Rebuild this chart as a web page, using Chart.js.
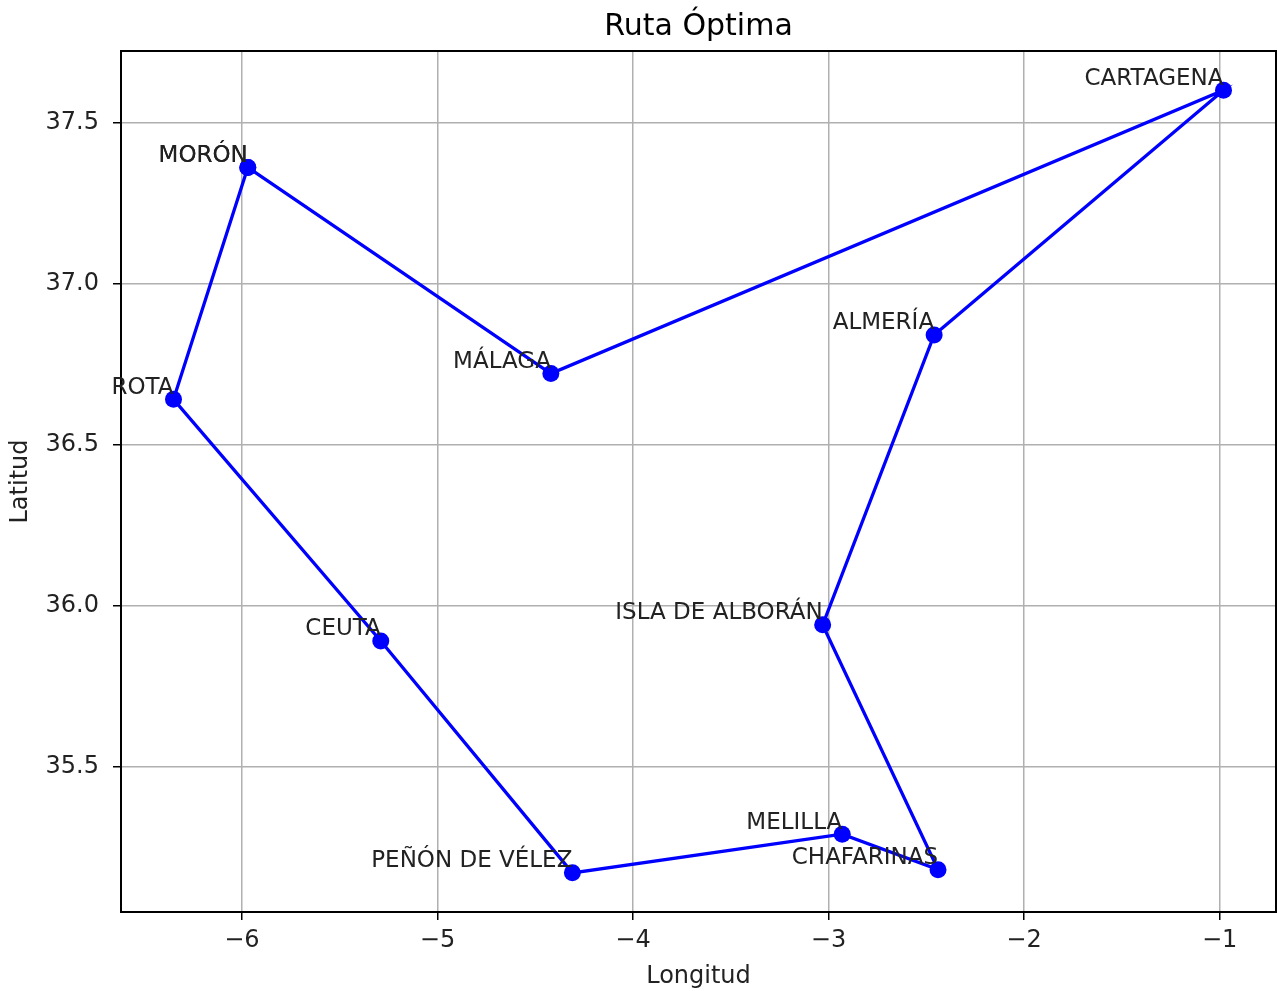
<!DOCTYPE html>
<html>
<head>
<meta charset="utf-8">
<title>Ruta Óptima</title>
<script src="https://cdn.jsdelivr.net/npm/chart.js@4.4.1/dist/chart.umd.min.js"></script>
<style>
    html, body { margin: 0; padding: 0; background: #fff; }
    #wrap { width: 1277px; height: 991px; position: relative; }
</style>
</head>
<body>
<div id="wrap"><canvas id="route-chart"></canvas></div>
<script>
// route order, first city repeated to close the loop
var cities = ['MORÓN', 'MÁLAGA', 'CARTAGENA', 'ALMERÍA', 'ISLA DE ALBORÁN', 'CHAFARINAS', 'MELILLA', 'PEÑÓN DE VÉLEZ', 'CEUTA', 'ROTA', 'MORÓN'];
var longitudes = [-5.97, -4.42, -0.98, -2.46, -3.03, -2.44, -2.93, -4.31, -5.29, -6.35, -5.97];
var latitudes = [37.36, 36.72, 37.60, 36.84, 35.94, 35.18, 35.29, 35.17, 35.89, 36.64, 37.36];
var xTicks = [-6, -5, -4, -3, -2, -1];
var yTicks = [35.5, 36.0, 36.5, 37.0, 37.5];
var chartTitle = 'Ruta Óptima';

var FONT = 'DejaVu Sans';
var TEXT = '#222';

// 5% margin around the data, like the original plot
function padRange(vals) {
    var lo = Math.min.apply(null, vals), hi = Math.max.apply(null, vals);
    var m = (hi - lo) * 0.05;
    return [lo - m, hi + m];
}
var xRange = padRange(longitudes);
var yRange = padRange(latitudes);

var points = cities.map(function (c, i) {
    return { x: longitudes[i], y: latitudes[i] };
});

// axes frame + title centred over the plot area
var framePlugin = {
    id: 'frame',
    beforeDatasetsDraw: function (chart) {
        var a = chart.chartArea, ctx = chart.ctx;
        ctx.save();
        ctx.strokeStyle = '#000';
        ctx.lineWidth = 2;
        ctx.strokeRect(a.left, a.top, a.right - a.left, a.bottom - a.top);
        ctx.font = '30px "' + FONT + '"';
        ctx.fillStyle = '#000';
        ctx.textAlign = 'center';
        ctx.textBaseline = 'alphabetic';
        ctx.fillText(chartTitle, (a.left + a.right) / 2, 35);
        ctx.restore();
    }
};

var labelPlugin = {
    id: 'cityLabels',
    afterDatasetsDraw: function (chart) {
        var ctx = chart.ctx;
        var meta = chart.getDatasetMeta(0);
        ctx.save();
        ctx.font = '23px "' + FONT + '"';
        ctx.fillStyle = TEXT;
        ctx.textAlign = 'right';
        ctx.textBaseline = 'bottom';
        meta.data.forEach(function (pt, i) {
            ctx.fillText(cities[i], pt.x, pt.y);
        });
        ctx.restore();
    }
};

function noEdgePad(s) {
    s.paddingLeft = 0;
    s.paddingRight = 0;
    s.paddingTop = 0;
    s.paddingBottom = 0;
}

var ctx = document.querySelector('#route-chart').getContext('2d');
var myChart = new Chart(ctx, {
    type: 'scatter',
    data: {
        datasets: [{
            data: points,
            showLine: true,
            borderColor: '#0000ff',
            borderWidth: 3.3,
            backgroundColor: '#0000ff',
            pointRadius: 8.5,
            pointBorderWidth: 0,
            tension: 0
        }]
    },
    options: {
        responsive: true,
        maintainAspectRatio: false,
        animation: false,
        events: [],
        layout: { autoPadding: false, padding: { left: 0, right: 1, top: 51, bottom: 0 } },
        plugins: {
            legend: { display: false },
            tooltip: { enabled: false },
            title: { display: false }
        },
        scales: {
            x: {
                type: 'linear',
                min: xRange[0],
                max: xRange[1],
                afterBuildTicks: function (s) {
                    s.ticks = xTicks.map(function (v) { return { value: v }; });
                },
                afterFit: function (s) { s.height = 79; noEdgePad(s); },
                border: { display: false },
                grid: { color: '#b0b0b0', lineWidth: 1.5, tickColor: '#000', tickWidth: 1.5, tickLength: 8 },
                ticks: {
                    color: TEXT,
                    font: { family: FONT, size: 24 },
                    padding: 6,
                    maxRotation: 0,
                    autoSkip: false,
                    callback: function (v) { return v < 0 ? '\u2212' + Math.abs(v) : String(v); }
                },
                title: {
                    display: true,
                    text: 'Longitud',
                    color: TEXT,
                    font: { family: FONT, size: 24 },
                    padding: { top: 0, bottom: 0 }
                }
            },
            y: {
                type: 'linear',
                min: yRange[0],
                max: yRange[1],
                afterBuildTicks: function (s) {
                    s.ticks = yTicks.map(function (v) { return { value: v }; });
                },
                afterFit: function (s) { s.width = 121; noEdgePad(s); },
                border: { display: false },
                grid: { color: '#b0b0b0', lineWidth: 1.5, tickColor: '#000', tickWidth: 1.5, tickLength: 8 },
                ticks: {
                    color: TEXT,
                    font: { family: FONT, size: 24 },
                    padding: 14,
                    autoSkip: false,
                    callback: function (v) { return v.toFixed(1); }
                },
                title: {
                    display: true,
                    text: 'Latitud',
                    color: TEXT,
                    font: { family: FONT, size: 24 },
                    padding: { top: 6, bottom: 0 }
                }
            }
        }
    },
    plugins: [framePlugin, labelPlugin]
});
</script>
</body>
</html>
